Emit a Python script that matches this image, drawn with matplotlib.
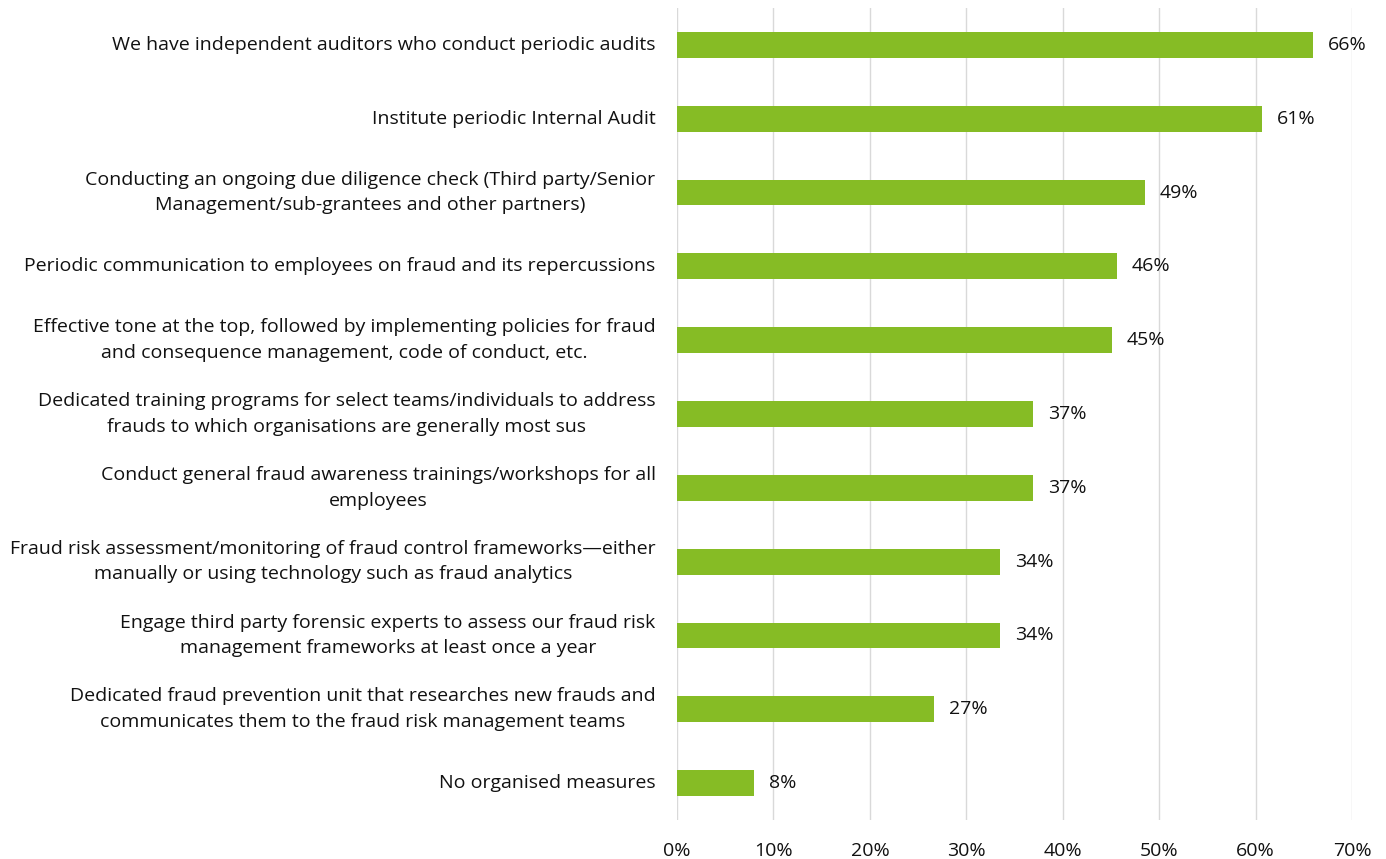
import matplotlib
matplotlib.use("Agg")
import matplotlib.pyplot as plt

plt.rcParams['font.family'] = ['Open Sans', 'DejaVu Sans']

categories = [
    "We have independent auditors who conduct periodic audits",
    "Institute periodic Internal Audit",
    "Conducting an ongoing due diligence check (Third party/Senior\nManagement/sub-grantees and other partners)",
    "Periodic communication to employees on fraud and its repercussions",
    "Effective tone at the top, followed by implementing policies for fraud\nand consequence management, code of conduct, etc.",
    "Dedicated training programs for select teams/individuals to address\nfrauds to which organisations are generally most sus",
    "Conduct general fraud awareness trainings/workshops for all\nemployees",
    "Fraud risk assessment/monitoring of fraud control frameworks\u2014either\nmanually or using technology such as fraud analytics",
    "Engage third party forensic experts to assess our fraud risk\nmanagement frameworks at least once a year",
    "Dedicated fraud prevention unit that researches new frauds and\ncommunicates them to the fraud risk management teams",
    "No organised measures",
]
values = [65.9, 60.7, 48.5, 45.6, 45.1, 36.9, 36.9, 33.5, 33.5, 26.6, 8.0]
value_labels = ["66%", "61%", "49%", "46%", "45%", "37%", "37%", "34%", "34%", "27%", "8%"]
xticks = [0, 10, 20, 30, 40, 50, 60, 70]
xtick_labels = ["0%", "10%", "20%", "30%", "40%", "50%", "60%", "70%"]

fig = plt.figure(figsize=(13.86, 8.59), dpi=100)
ax = fig.add_axes([0.4885, 0.0454, 0.9755 - 0.4885, 0.9907 - 0.0454])

y = list(range(len(categories)))
ax.barh(y, values, height=0.35, color="#86BC25", zorder=3)
for yi, v, lab in zip(y, values, value_labels):
    ax.text(v + 1.55, yi, lab, va="center", ha="left", fontsize=14, color="#111111")

ax.set_ylim(len(categories) - 0.5, -0.5)
ax.set_xlim(0, 70)
ax.set_yticks(y)
ax.set_yticklabels(categories, fontsize=14, color="#111111", linespacing=1.55,
                   multialignment="center", va="center")
ax.set_xticks(xticks)
ax.set_xticklabels(xtick_labels, fontsize=14, color="#111111")
ax.tick_params(axis="both", length=0)
ax.tick_params(axis="y", pad=15.5)
ax.tick_params(axis="x", pad=15.5)
ax.grid(axis="x", color="#d9d9d9", linewidth=1, zorder=0)
for s in ax.spines.values():
    s.set_visible(False)

fig.savefig("out.png", dpi=100)
